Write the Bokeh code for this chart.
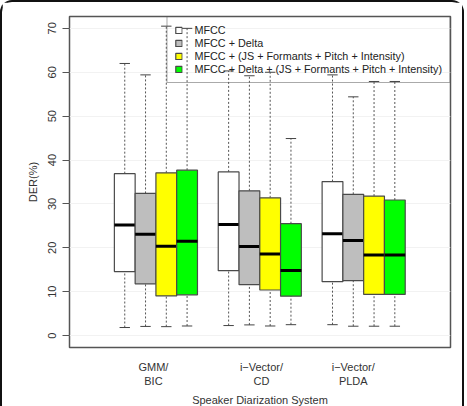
from bokeh.plotting import figure
from bokeh.models import ColumnDataSource, Range1d, FixedTicker, Legend, LegendItem
from bokeh.embed import file_html
from bokeh.resources import INLINE

# ---- data -------------------------------------------------------------
groups = ["GMM/\nBIC", "i\u2212Vector/\nCD", "i\u2212Vector/\nPLDA"]
group_label_pos = [2.38, 7.58, 12.0]

series = ["MFCC",
          "MFCC + Delta",
          "MFCC + (JS + Formants + Pitch + Intensity)",
          "MFCC + Delta + (JS + Formants + Pitch + Intensity)"]
colors = ["#ffffff", "#bebebe", "#ffff00", "#00ff00"]

# five-number summaries (DER %) per series, one value per diarization system
mfcc_lo = [1.85, 2.3, 2.5]
mfcc_q1 = [14.6, 14.8, 12.3]
mfcc_med = [25.2, 25.3, 23.2]
mfcc_q3 = [36.9, 37.3, 35.1]
mfcc_hi = [62.0, 60.3, 59.4]

delta_lo = [2.1, 2.45, 2.15]
delta_q1 = [11.8, 11.6, 12.55]
delta_med = [23.1, 20.3, 21.7]
delta_q3 = [32.4, 33.0, 32.2]
delta_hi = [59.4, 59.2, 54.4]

js_lo = [2.05, 2.2, 2.15]
js_q1 = [9.05, 10.4, 9.4]
js_med = [20.35, 18.6, 18.35]
js_q3 = [37.1, 31.4, 31.8]
js_hi = [70.5, 60.0, 57.9]

deltajs_lo = [2.2, 2.5, 2.15]
deltajs_q1 = [9.3, 9.0, 9.4]
deltajs_med = [21.5, 14.85, 18.35]
deltajs_q3 = [37.7, 25.5, 30.9]
deltajs_hi = [70.0, 44.9, 57.9]

stats = [
    (mfcc_lo, mfcc_q1, mfcc_med, mfcc_q3, mfcc_hi),
    (delta_lo, delta_q1, delta_med, delta_q3, delta_hi),
    (js_lo, js_q1, js_med, js_q3, js_hi),
    (deltajs_lo, deltajs_q1, deltajs_med, deltajs_q3, deltajs_hi),
]

y_ticks = [0, 10, 20, 30, 40, 50, 60, 70]

# ---- figure -----------------------------------------------------------
FONT = "Liberation Sans"
EDGE = "#4a4a4a"

p = figure(width=464, height=406, output_backend="svg", toolbar_location=None,
           x_range=Range1d(-1.66, 16.68), y_range=Range1d(-2.7, 72.7),
           min_border_left=67, min_border_right=16, min_border_top=14,
           min_border_bottom=52)

# rounded frame around the whole graphic (open at the bottom)
p.styles = {"border": "2px solid #111111", "border-bottom": "none",
            "border-radius": "12px 12px 0 0"}

p.background_fill_color = "white"
p.border_fill_color = "white"
p.outline_line_color = "#555555"
p.outline_line_width = 1.5

p.xgrid.grid_line_color = None
p.ygrid.grid_line_color = "#f2f2f2"
p.ygrid.ticker = FixedTicker(ticks=y_ticks)

renderers = []
for s, (lo, q1, med, q3, hi) in enumerate(stats):
    xs = [5 * g + s + 1 for g in range(len(groups))]
    src = ColumnDataSource(dict(
        x=xs, lo=lo, q1=q1, med=med, q3=q3, hi=hi,
        cl=[x - 0.25 for x in xs], cr=[x + 0.25 for x in xs],
        ml=[x - 0.5 for x in xs], mr=[x + 0.5 for x in xs],
    ))
    # dashed whiskers
    p.segment(x0="x", y0="q3", x1="x", y1="hi", source=src,
              line_color="#555555", line_width=1, line_dash="2 2")
    p.segment(x0="x", y0="lo", x1="x", y1="q1", source=src,
              line_color="#555555", line_width=1, line_dash="2 2")
    # whisker caps
    p.segment(x0="cl", y0="hi", x1="cr", y1="hi", source=src,
              line_color="#444444", line_width=1)
    p.segment(x0="cl", y0="lo", x1="cr", y1="lo", source=src,
              line_color="#444444", line_width=1)
    # boxes
    r = p.vbar(x="x", width=1, bottom="q1", top="q3", source=src,
               fill_color=colors[s], line_color=EDGE, line_width=1.2)
    renderers.append(r)
    # medians
    p.segment(x0="ml", y0="med", x1="mr", y1="med", source=src,
              line_color="black", line_width=3)

# ---- axes -------------------------------------------------------------
p.yaxis.ticker = FixedTicker(ticks=y_ticks)
p.yaxis.major_label_orientation = "vertical"
p.yaxis.axis_label = "DER(%)"
p.yaxis.axis_line_color = None
p.yaxis.major_tick_out = 7
p.yaxis.major_tick_in = 0
p.yaxis.minor_tick_line_color = None
p.yaxis.major_tick_line_color = "#555555"
p.yaxis.major_label_standoff = 6
p.yaxis.axis_label_standoff = 7

p.xaxis.ticker = FixedTicker(ticks=group_label_pos)
p.xaxis.major_label_overrides = {pos: lab for pos, lab in zip(group_label_pos, groups)}
p.xaxis.axis_label = "Speaker Diarization System"
p.xaxis.axis_line_color = None
p.xaxis.major_tick_line_color = None
p.xaxis.minor_tick_line_color = None
p.xaxis.major_tick_out = 0
p.xaxis.major_tick_in = 0
p.xaxis.major_label_standoff = 13
p.xaxis.axis_label_standoff = 4

for ax in (p.xaxis, p.yaxis):
    ax.major_label_text_font = FONT
    ax.major_label_text_font_size = "11px"
    ax.major_label_text_color = "#333333"
    ax.axis_label_text_font = FONT
    ax.axis_label_text_font_size = "11px"
    ax.axis_label_text_font_style = "normal"
    ax.axis_label_text_color = "#333333"

# ---- legend -----------------------------------------------------------
legend = Legend(
    items=[LegendItem(label=name, renderers=[r]) for name, r in zip(series, renderers)],
    location="top_right", margin=0, padding=7, spacing=1,
    label_height=9, glyph_height=8, glyph_width=8, label_standoff=12,
    label_text_font=FONT, label_text_font_size="10.8px", label_text_color="#222222",
    border_line_color="#555555", border_line_width=1,
    background_fill_alpha=0,
)
p.add_layout(legend)

open("out.html", "w").write(file_html(p, INLINE))
